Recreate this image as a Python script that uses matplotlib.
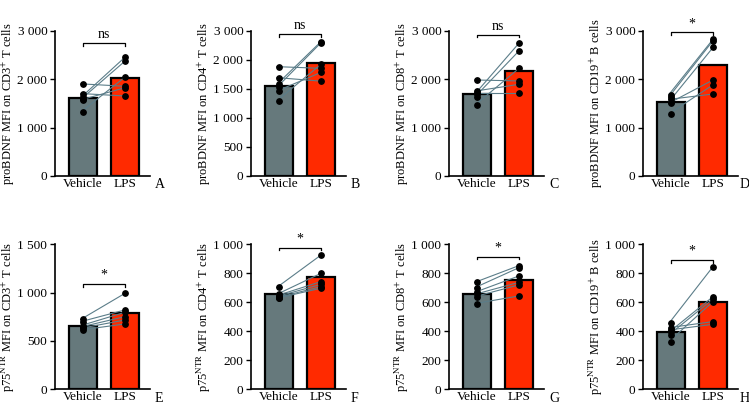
import matplotlib
matplotlib.use("Agg")
import matplotlib.pyplot as plt
import numpy as np

plt.rcParams['font.family'] = ['Liberation Serif', 'DejaVu Serif']
plt.rcParams['mathtext.fontset'] = 'stix'

groups = ["Vehicle", "LPS"]

# paired points (vehicle[i] -> lps[i]) and bar heights
A_vehicle = [1900, 1700, 1620, 1580, 1570, 1320]
A_lps = [1850, 1650, 2450, 2370, 1820, 2040]
A_bars = [1600, 2020]

B_vehicle = [1879, 1690, 1575, 1523, 1460, 1293]
B_lps = [1850, 1630, 2310, 2290, 1780, 1920]
B_bars = [1552, 1948]

C_vehicle = [1980, 1750, 1720, 1690, 1630, 1460]
C_lps = [1960, 1890, 1720, 2740, 2580, 2220]
C_bars = [1690, 2166]

D_vehicle = [1680, 1630, 1580, 1530, 1500, 1280]
D_lps = [2820, 2790, 1690, 2650, 1980, 1880]
D_bars = [1531, 2290]

E_vehicle = [724, 700, 659, 645, 631, 614]
E_lps = [993, 821, 797, 752, 717, 676]
E_bars = [655, 786]

F_vehicle = [703, 655, 646, 639, 632, 628]
F_lps = [926, 800, 743, 724, 708, 697]
F_bars = [655, 777]

G_vehicle = [738, 701, 669, 655, 639, 591]
G_lps = [853, 839, 782, 738, 720, 644]
G_bars = [655, 754]

H_vehicle = [455, 425, 409, 393, 375, 329]
H_lps = [846, 467, 448, 639, 623, 605]
H_bars = [393, 600]

ylabels = [
    "proBDNF MFI on CD3$^{+}$ T cells",
    "proBDNF MFI on CD4$^{+}$ T cells",
    "proBDNF MFI on CD8$^{+}$ T cells",
    "proBDNF MFI on CD19$^{+}$ B cells",
    "p75$^{\\mathrm{NTR}}$ MFI on CD3$^{+}$ T cells",
    "p75$^{\\mathrm{NTR}}$ MFI on CD4$^{+}$ T cells",
    "p75$^{\\mathrm{NTR}}$ MFI on CD8$^{+}$ T cells",
    "p75$^{\\mathrm{NTR}}$ MFI on CD19$^{+}$ B cells",
]
letters = ["A", "B", "C", "D", "E", "F", "G", "H"]

# y ticks and labels (panel B's top label reads "3 000" in the source)
ticks_top = [0, 1000, 2000, 3000]
labels_top = ["0", "1 000", "2 000", "3 000"]
ticks_B = [0, 500, 1000, 1500, 2000, 2500]
labels_B = ["0", "500", "1 000", "1 500", "2 000", "3 000"]
ticks_E = [0, 500, 1000, 1500]
labels_E = ["0", "500", "1 000", "1 500"]
ticks_bot = [0, 200, 400, 600, 800, 1000]
labels_bot = ["0", "200", "400", "600", "800", "1 000"]

sig_text = ["ns", "ns", "ns", "*", "*", "*", "*", "*"]
sig_y = [2740, 2437, 2910, 2960, 1090, 977, 915, 892]

panels = [
    (A_vehicle, A_lps, A_bars, ticks_top, labels_top),
    (B_vehicle, B_lps, B_bars, ticks_B, labels_B),
    (C_vehicle, C_lps, C_bars, ticks_top, labels_top),
    (D_vehicle, D_lps, D_bars, ticks_top, labels_top),
    (E_vehicle, E_lps, E_bars, ticks_E, labels_E),
    (F_vehicle, F_lps, F_bars, ticks_bot, labels_bot),
    (G_vehicle, G_lps, G_bars, ticks_bot, labels_bot),
    (H_vehicle, H_lps, H_bars, ticks_bot, labels_bot),
]

W, H = 749, 405
fig = plt.figure(figsize=(W / 100, H / 100), dpi=100)

lefts = [55, 251, 449, 643]
rows = [(30.5, 176), (244.3, 389.3)]
ax_w = 95.2

bar_colors = ["#66797c", "#ff2a00"]

for k, (veh, lps, bars, ticks, tlabels) in enumerate(panels):
    r, c = divmod(k, 4)
    top, bot = rows[r]
    ax_h = bot - top
    ax = fig.add_axes([lefts[c] / W, 1 - bot / H, ax_w / W, ax_h / H])
    x = np.arange(2)
    ax.bar(x, bars, width=0.65, color=bar_colors, edgecolor="black",
           linewidth=1.6, zorder=2)
    for v, l in zip(veh, lps):
        ax.plot([-0.05, 1], [v, l], color="#5b7d89", lw=0.8, zorder=3)
    ax.scatter(np.zeros(len(veh)), veh, s=15, color="black", zorder=4)
    ax.scatter(np.ones(len(lps)), lps, s=15, color="black", zorder=4)

    ax.set_xlim(-0.667, 1.6)
    ax.set_ylim(ticks[0], ticks[-1])
    ax.set_yticks(ticks)
    ax.set_yticklabels(tlabels)
    ax.set_xticks(x)
    ax.set_xticklabels(groups)
    ax.tick_params(axis="y", length=3.5, width=1, pad=2, labelsize=9.5)
    ax.tick_params(axis="x", length=0, pad=1.5, labelsize=9.5)
    for s in ["top", "right"]:
        ax.spines[s].set_visible(False)
    for s in ["left", "bottom"]:
        ax.spines[s].set_linewidth(1.2)
    ax.set_ylabel(ylabels[k], fontsize=9)
    ax.yaxis.set_label_coords(-38 / ax_w, 0.5)

    # significance bracket
    yb = sig_y[k]
    dy = (ticks[-1] - ticks[0]) * 0.018
    ax.plot([0, 0, 1, 1], [yb - dy, yb, yb, yb - dy], color="black",
            lw=0.9, clip_on=False, zorder=5)
    ax.annotate(sig_text[k], (0.5, yb), xytext=(0, 1.5),
                textcoords="offset points", ha="center", va="bottom",
                fontsize=10, annotation_clip=False)

    lx = 1.015 if c == 3 else 1.05
    ax.text(lx, -9 / ax_h, letters[k], transform=ax.transAxes,
            ha="left", va="center", fontsize=10)

fig.savefig("out.png", dpi=100)
